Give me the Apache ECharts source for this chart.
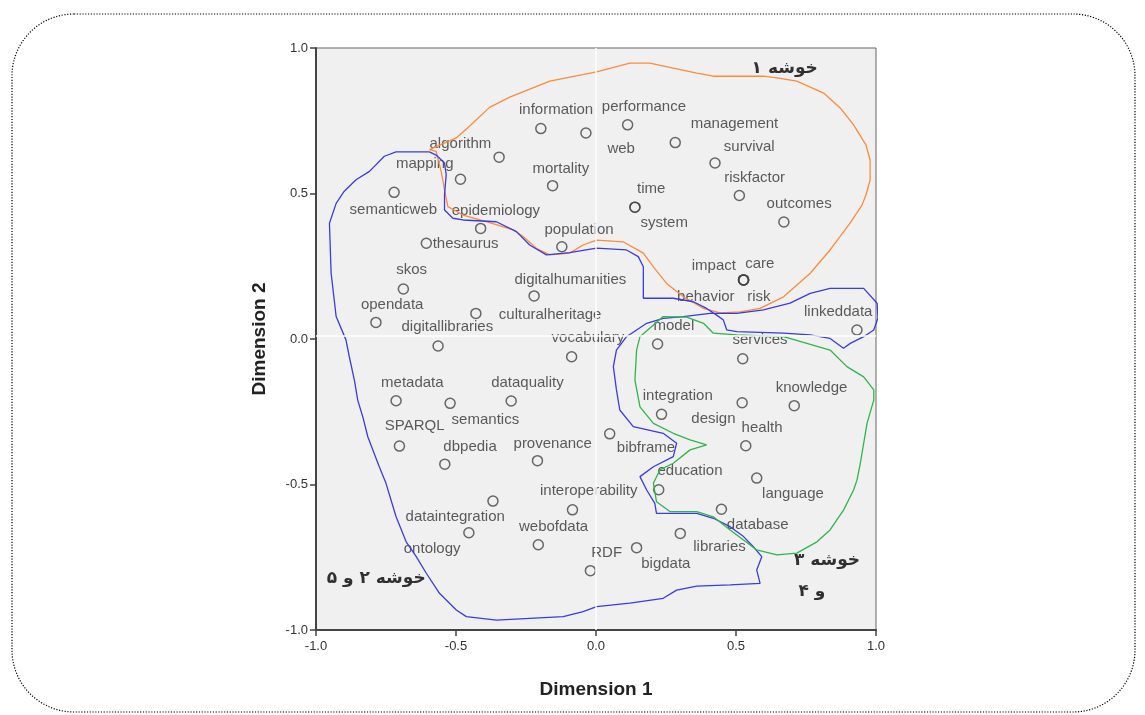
<!DOCTYPE html>
<html>
<head>
<meta charset="utf-8">
<script src="https://cdn.jsdelivr.net/npm/echarts@6/dist/echarts.min.js"></script>
<style>html,body{margin:0;padding:0;background:#fff;}#chart{width:1145px;height:715px;}</style>
</head>
<body>
<div id="chart"></div>
<script>
// ---- data ----
var terms = ["information","web","performance","management","survival","riskfactor","outcomes","algorithm","mapping","semanticweb","mortality","epidemiology","thesaurus","time","system","population","skos","digitalhumanities","culturalheritage","opendata","digitallibraries","impact","care","behavior","risk","linkeddata","vocabulary","model","services","metadata","semantics","dataquality","knowledge","design","integration","SPARQL","dbpedia","provenance","bibframe","health","education","language","interoperability","dataintegration","ontology","webofdata","database","libraries","bigdata","RDF"];
var dim1 = [-0.197,-0.036,0.113,0.283,0.425,0.512,0.671,-0.346,-0.484,-0.721,-0.155,-0.412,-0.606,0.139,0.139,-0.122,-0.688,-0.221,-0.429,-0.786,-0.564,0.527,0.527,0.527,0.527,0.932,-0.087,0.220,0.524,-0.714,-0.521,-0.303,0.708,0.522,0.234,-0.702,-0.540,-0.209,0.049,0.535,0.224,0.574,-0.084,-0.368,-0.454,-0.206,0.448,0.301,0.145,-0.020];
var dim2 = [0.723,0.708,0.736,0.675,0.605,0.493,0.402,0.625,0.549,0.504,0.527,0.380,0.329,0.453,0.453,0.317,0.172,0.148,0.088,0.057,-0.024,0.203,0.203,0.203,0.203,0.031,-0.061,-0.017,-0.068,-0.212,-0.221,-0.213,-0.229,-0.219,-0.259,-0.368,-0.430,-0.418,-0.326,-0.367,-0.518,-0.478,-0.587,-0.557,-0.666,-0.707,-0.585,-0.668,-0.717,-0.796];
var tickValues = [-1.0,-0.5,0.0,0.5,1.0];

// cluster outlines (data coordinates)
var cluster1Outline = [[-0.595,0.651],[-0.499,0.691],[-0.452,0.731],[-0.380,0.796],[-0.308,0.831],[-0.165,0.886],[0.002,0.918],[0.121,0.948],[0.192,0.948],[0.276,0.931],[0.360,0.914],[0.419,0.903],[0.598,0.903],[0.646,0.897],[0.717,0.886],[0.813,0.845],[0.872,0.794],[0.920,0.736],[0.964,0.667],[0.979,0.615],[0.979,0.546],[0.964,0.495],[0.950,0.460],[0.908,0.399],[0.836,0.306],[0.765,0.226],[0.670,0.145],[0.586,0.105],[0.514,0.093],[0.443,0.090],[0.384,0.105],[0.312,0.145],[0.252,0.191],[0.205,0.248],[0.169,0.295],[0.097,0.334],[0.002,0.340],[-0.046,0.323],[-0.094,0.295],[-0.165,0.289],[-0.213,0.312],[-0.260,0.352],[-0.296,0.375],[-0.392,0.403],[-0.475,0.426],[-0.529,0.455],[-0.541,0.512],[-0.553,0.576],[-0.571,0.645],[-0.595,0.651]];
var cluster25Outline = [[-0.595,0.643],[-0.714,0.643],[-0.756,0.628],[-0.809,0.576],[-0.857,0.547],[-0.899,0.508],[-0.928,0.466],[-0.952,0.398],[-0.946,0.226],[-0.928,0.077],[-0.893,-0.003],[-0.881,-0.061],[-0.863,-0.141],[-0.851,-0.210],[-0.833,-0.267],[-0.815,-0.336],[-0.774,-0.439],[-0.750,-0.496],[-0.714,-0.611],[-0.678,-0.697],[-0.642,-0.748],[-0.606,-0.805],[-0.559,-0.874],[-0.499,-0.931],[-0.463,-0.954],[-0.356,-0.966],[-0.117,-0.954],[-0.046,-0.937],[0.002,-0.920],[0.121,-0.908],[0.240,-0.891],[0.288,-0.863],[0.360,-0.849],[0.479,-0.845],[0.586,-0.840],[0.574,-0.794],[0.592,-0.748],[0.562,-0.714],[0.527,-0.679],[0.479,-0.645],[0.419,-0.616],[0.360,-0.599],[0.216,-0.599],[0.210,-0.565],[0.181,-0.519],[0.157,-0.473],[0.205,-0.439],[0.276,-0.404],[0.288,-0.358],[0.240,-0.324],[0.133,-0.301],[0.085,-0.244],[0.073,-0.175],[0.062,-0.095],[0.073,-0.038],[0.109,0.008],[0.181,0.054],[0.240,0.071],[0.312,0.077],[0.407,0.088],[0.503,0.088],[0.598,0.100],[0.693,0.123],[0.765,0.157],[0.836,0.174],[0.956,0.174],[1.004,0.123],[1.007,0.072],[0.992,0.031],[0.956,0.008],[0.908,-0.015],[0.884,-0.032],[0.836,0.002],[0.765,0.014],[0.670,0.020],[0.503,0.025],[0.467,0.031],[0.455,0.065],[0.431,0.082],[0.395,0.105],[0.348,0.128],[0.276,0.140],[0.169,0.140],[0.169,0.248],[0.151,0.283],[0.109,0.306],[0.002,0.312],[-0.094,0.297],[-0.177,0.289],[-0.237,0.323],[-0.284,0.369],[-0.356,0.403],[-0.475,0.409],[-0.511,0.415],[-0.541,0.443],[-0.541,0.496],[-0.535,0.565],[-0.541,0.605],[-0.571,0.632],[-0.595,0.643]];
var cluster34Outline = [[0.157,0.008],[0.240,0.077],[0.324,0.075],[0.384,0.054],[0.419,0.020],[0.503,0.014],[0.670,0.008],[0.753,-0.015],[0.836,-0.038],[0.896,-0.095],[0.956,-0.130],[0.992,-0.175],[0.992,-0.210],[0.968,-0.290],[0.944,-0.427],[0.932,-0.485],[0.920,-0.519],[0.884,-0.588],[0.836,-0.656],[0.789,-0.697],[0.717,-0.736],[0.646,-0.742],[0.574,-0.725],[0.527,-0.691],[0.479,-0.656],[0.419,-0.611],[0.360,-0.593],[0.264,-0.593],[0.216,-0.559],[0.205,-0.496],[0.228,-0.450],[0.276,-0.427],[0.336,-0.381],[0.395,-0.364],[0.336,-0.347],[0.276,-0.324],[0.205,-0.290],[0.157,-0.233],[0.139,-0.141],[0.145,-0.038],[0.157,0.008]];

// cluster captions
var clusterNames = ["خوشه ۱","خوشه ۲ و ۵","خوشه ۳","و ۴"];
var clusterNameX = [0.674,-0.785,0.825,0.771];
var clusterNameY = [0.931,-0.822,-0.763,-0.869];

// ---- label placement (style, pixels from the point centre) ----
var labelOffsets = [[16,-18],[36,17],[17,-17],[60,-18],[35,-15],[16,-17],[16,-17],[-38,-13],[-35,-15],[0,18],[9,-16],[16,-17],[40,1],[17,-18],[30,16],[18,-16],[9,-18],[37,-15],[75,2],[17,-17],[10,-18],[-29,-13],[17,-15],[-37,18],[16,18],[-18,-17],[17,-18],[17,-17],[18,-18],[17,-17],[36,17],[17,-17],[18,-17],[-28,17],[17,-18],[16,-19],[26,-17],[16,-16],[37,15],[17,-17],[32,-18],[37,17],[17,-18],[-37,17],[-36,17],[16,-17],[37,16],[40,14],[30,17],[17,-17]];
var markerSize = 10;

var pointData = terms.map(function(t,i){
  var h = markerSize/2;
  return {name:t, value:[dim1[i],dim2[i]],
    label:{show:true, position:[h+labelOffsets[i][0], h+labelOffsets[i][1]], align:'center', verticalAlign:'middle'}};
});
var captionData = clusterNames.map(function(t,i){ return {name:t, value:[clusterNameX[i],clusterNameY[i]]}; });

var chart = echarts.init(document.getElementById('chart'));
var axisCommon = {
  type:'value', min:-1, max:1, interval:0.5,
  axisLine:{onZero:false, lineStyle:{color:'#444', width:2}},
  axisTick:{show:true, inside:false, length:6, lineStyle:{color:'#444', width:1.5}},
  axisLabel:{color:'#333', fontSize:13, fontFamily:'Liberation Sans', formatter:function(v){return v.toFixed(1);}},
  splitLine:{show:false},
  nameLocation:'middle',
  nameTextStyle:{color:'#222', fontSize:19, fontWeight:'bold', fontFamily:'Liberation Sans'}
};
chart.setOption({
  animation:false,
  backgroundColor:'#fff',
  graphic:[{type:'rect', shape:{x:12,y:14,width:1123,height:698,r:62}, style:{fill:'none', stroke:'#000', lineWidth:1.2, lineDash:[1.2,1.6]}, z:0}],
  grid:{left:316, right:269, top:48, bottom:85, show:true, backgroundColor:'#f0f0f0', borderColor:'#666', borderWidth:1},
  xAxis:Object.assign({}, axisCommon, {name:'Dimension 1', nameGap:50, axisLabel:Object.assign({}, axisCommon.axisLabel, {margin:10})}),
  yAxis:Object.assign({}, axisCommon, {name:'Dimension 2', nameGap:47, axisLabel:Object.assign({}, axisCommon.axisLabel, {margin:8})}),
  series:[
    {type:'scatter', z:2, data:pointData, symbol:'circle', symbolSize:markerSize,
     itemStyle:{color:'rgba(0,0,0,0)', borderColor:'#444', borderWidth:1.5},
     label:{show:true, formatter:'{b}', color:'#333', fontSize:15, fontFamily:'Liberation Sans', align:'center', verticalAlign:'middle'},
     labelLayout:{hideOverlap:false}},
    {type:'line', z:3, data:[], silent:true,
     markLine:{silent:true, symbol:'none', label:{show:false}, lineStyle:{color:'#ffffff', width:1.5, type:'solid'}, data:[{xAxis:0},{yAxis:0.013}]}},
    {type:'line', z:4, data:cluster1Outline, showSymbol:false, symbol:'none', clip:false, lineStyle:{color:'#ff8a3a', width:1.3}, silent:true},
    {type:'line', z:4, data:cluster25Outline, showSymbol:false, symbol:'none', clip:false, lineStyle:{color:'#3b3be0', width:1.3}, silent:true},
    {type:'line', z:4, data:cluster34Outline, showSymbol:false, symbol:'none', clip:false, lineStyle:{color:'#2fb54a', width:1.3}, silent:true},
    {type:'scatter', z:5, data:captionData, symbolSize:0, silent:true,
     label:{show:true, position:'inside', formatter:'{b}', color:'#000', fontSize:17, fontWeight:'bold', fontFamily:'DejaVu Sans', align:'center', verticalAlign:'middle'}}
  ]
});
</script>
</body>
</html>
